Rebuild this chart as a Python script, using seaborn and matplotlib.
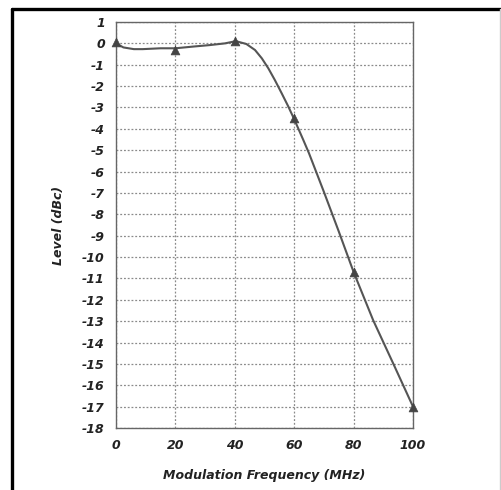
import matplotlib
matplotlib.use("Agg")
import matplotlib.pyplot as plt
from matplotlib.lines import Line2D
import seaborn as sns
import pandas as pd

curve_freq = [0, 2.5, 6, 9, 15, 20, 26, 31.6, 36.7, 39.5, 41, 43.9, 46.8, 49.1, 51.3, 53.5, 55.8,
              58, 60, 63, 65, 70, 75, 80, 86.6, 93.4, 100]
curve_level = [0.0, -0.19, -0.27, -0.27, -0.23, -0.23, -0.15, -0.08, 0.0, 0.08, 0.08, -0.03, -0.31,
               -0.7, -1.17, -1.72, -2.34, -2.95, -3.55, -4.5, -5.15, -6.95, -8.8, -10.7, -12.96,
               -15.0, -17.0]
# Marker points
mark_freq = [0, 20, 40, 60, 80, 100]
mark_level = [0.05, -0.3, 0.1, -3.5, -10.7, -17.0]

x_ticks = [0, 20, 40, 60, 80, 100]
y_ticks = list(range(-18, 2))

sns.set_style("white")
plt.rcParams['font.family'] = ['DejaVu Sans']

fig = plt.figure(figsize=(5.02, 4.90), dpi=100)
ax = fig.add_axes([116/502, 1 - 428/490, (413 - 116)/502, (428 - 22)/490])

df_curve = pd.DataFrame({"freq": curve_freq, "level": curve_level})
df_mark = pd.DataFrame({"freq": mark_freq, "level": mark_level})

sns.lineplot(data=df_curve, x="freq", y="level", ax=ax, color="#555555", linewidth=1.5, zorder=3)
sns.scatterplot(data=df_mark, x="freq", y="level", ax=ax, marker="^", color="#444444",
                s=40, edgecolor="#444444", linewidth=0.5, zorder=4, clip_on=False)

ax.set_xlim(0, 100)
ax.set_ylim(-18, 1)
ax.set_xticks(x_ticks)
ax.set_yticks(y_ticks)
ax.set_xticklabels([str(v) for v in x_ticks])
ax.set_yticklabels([str(v) for v in y_ticks])

ax.grid(True, which="major", color="#8a8a8a", linestyle=(0, (1.5, 1.5)), linewidth=0.9)
ax.set_axisbelow(True)
ax.tick_params(length=0, pad=8)
for lbl in ax.get_xticklabels() + ax.get_yticklabels():
    lbl.set_fontweight("bold")
    lbl.set_fontstyle("italic")
    lbl.set_fontsize(9)
    lbl.set_color("#222222")

for sp in ax.spines.values():
    sp.set_color("#666666")
    sp.set_linewidth(1.0)

ax.set_xlabel("Modulation Frequency (MHz)", fontsize=9, fontweight="bold", fontstyle="italic",
              color="#222222", labelpad=12)
ax.set_ylabel("Level (dBc)", fontsize=9, fontweight="bold", fontstyle="italic",
              color="#222222", labelpad=12)

# Outer frame
fig.add_artist(Line2D([12/502, 1.0], [1 - 9.5/490, 1 - 9.5/490], color="black", linewidth=2.4,
                      transform=fig.transFigure))
fig.add_artist(Line2D([12/502, 12/502], [0, 1 - 9.5/490], color="black", linewidth=2.4,
                      transform=fig.transFigure))
fig.add_artist(Line2D([500/502, 500/502], [0, 1 - 9.5/490], color="#cccccc", linewidth=1.0,
                      transform=fig.transFigure))

fig.savefig("out.png", dpi=100)
